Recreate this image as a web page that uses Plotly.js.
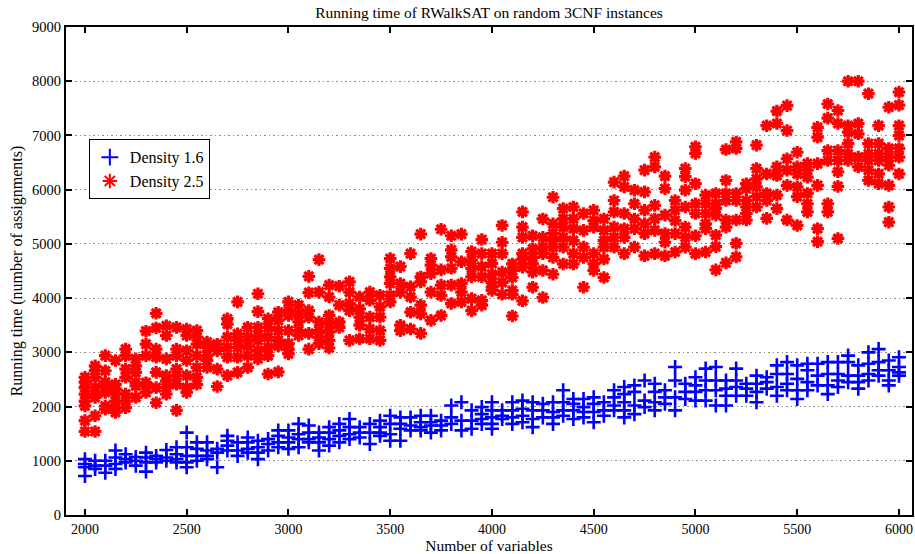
<!DOCTYPE html>
<html>
<head>
<meta charset="utf-8">
<script src="https://cdn.plot.ly/plotly-3.0.1.min.js"></script>
<style>
html,body{margin:0;padding:0;background:#fff;}
#chart{width:915px;height:554px;}
</style>
</head>
<body>
<div id="chart"></div>
<script>
// Number of variables (one column every 50)
var nVars = [];
for (var v = 2000; v <= 6000; v += 50) nVars.push(v);

// Density 1.6 running times, one list per column of nVars
var density16 = [
 [1030,940,880,720],[1000,910,850],[1000,910,780],[1190,1060,940,850],[1120,1030,970],
 [1070,1000,910],[1150,1060,970,800],[1090,1030,970],[1200,1060,1000],[1250,1120,1030,970],
 [1520,1250,1090,970,880],[1340,1220,1090,1000],[1340,1190,1090,1030],[1220,1150,880],[1460,1370,1280,1190],
 [1340,1190,1090],[1430,1340,1220,1150],[1370,1250,1150,1030],[1400,1310,1190],[1560,1460,1340,1250],
 [1560,1430,1340,1220],[1680,1490,1400,1250],[1650,1520,1400,1340],[1520,1430,1340,1190],[1620,1520,1400,1280],
 [1680,1560,1460,1340],[1770,1620,1490,1400],[1620,1520,1430],[1680,1520,1310],[1740,1620,1520,1460],
 [1830,1680,1490,1370],[1800,1680,1590,1370],[1800,1650,1560],[1830,1710,1620,1560],[1830,1710,1650,1520],
 [1740,1650,1560],[2020,1800,1680],[2080,1740,1560],[1930,1740,1590],[1990,1860,1770,1680],
 [2080,1930,1800,1680,1590],[1930,1830,1770],[2080,1930,1800,1680],[2110,1960,1830,1710],[2080,1930,1770,1620],
 [2050,1930,1800],[2080,1900,1800,1680],[2300,2080,1930,1830],[2140,2050,1930,1770],[2140,1990,1900,1800],
 [2170,2050,1900,1710],[2080,1930,1830],[2300,2170,2020,1930],[2360,2230,2080,1930,1800],[2390,2270,2020,1860],
 [2480,2110,1990],[2420,2270,2080,1930],[2300,2170,2050],[2730,2480,2170,1930],[2420,2270,2140],
 [2540,2390,2270,2110],[2700,2480,2300,2110],[2730,2480,2300,2020],[2480,2330,2200,2020],[2700,2480,2360,2200],
 [2420,2330,2200],[2570,2420,2270,2080],[2540,2450,2330],[2760,2600,2360,2200],[2820,2600,2420,2300],
 [2760,2510,2300,2140],[2790,2670,2450,2300],[2790,2570,2390],[2820,2600,2390,2230],[2820,2600,2480,2360],
 [2940,2820,2570,2450],[2760,2570,2450,2330],[3000,2790,2600,2480],[3060,2820,2670,2570],[2850,2670,2480,2390],
 [2910,2730,2630,2570]
];

// Density 2.5 running times, one list per column of nVars
var density25 = [
 [2540,2350,2230,2100,2010,1740,1540,2450],[2750,2660,2540,2350,2230,2170,1830,1540],[2940,2660,2380,2260,2010,1950,2450],
 [2850,2410,2320,2230,2100,1980,1890],[3060,2940,2690,2540,2230,2100,1980],[2880,2750,2630,2440,2380,2170],
 [3390,3150,2940,2440,2380,2260],[3720,3450,3060,2910,2630,2350,2070],[3490,3310,2880,2570,2470,2350,2230],
 [3460,3060,2940,2690,2570,2410,1930],[3430,3310,3030,2850,2570,2350,2260],[3400,3280,3150,2940,2720,2540,2410],
 [3190,3090,2940,2850,2720],[3150,3030,2690,2370],[3620,3520,3280,3090,2910,2570],
 [3930,3340,3220,3090,2910,2630],[3460,3280,3120,2940,2720],[4080,3750,3460,3310,3220,3030,2880],
 [3620,3460,3280,3090,2940,2600],[3740,3590,3400,3220,3120,2640],[3930,3770,3680,3400,3160,3060,2970],
 [3870,3710,3560,3400,3310],[4400,4100,3770,3650,3350,3060],[4710,4110,3560,3400,3280,3160],
 [4240,4020,3680,3530,3370,3220,3080],[4220,3870,3560,3460],[4300,4110,3900,3770,3220],
 [4020,3800,3650,3500,3250],[4110,3960,3650,3430,3250],[4050,3840,3650,3400,3220],
 [4730,4550,4390,4270,4050,3930],[4580,4270,4110,3500,3400],[4820,4210,4020,3740,3430],
 [5180,4390,4300,3870,3710,3350],[4730,4610,4450,4110,3590],[5270,4520,4240,4050,3680],
 [5150,4890,4760,4550,4240,3900],[5180,4670,4270,4110,3930],[4860,4700,4550,4390,3990,3770],
 [5080,4820,4580,4390,3960,3870],[4820,4640,4440,4290,4200,4140],[5340,5030,4820,4480,4290,4070],
 [4630,4510,4380,4140,4070,3670],[5590,5310,5120,4820,4720,4570,3950],[5150,4910,4750,4630,4480,4200],
 [5460,5120,4940,4820,4510,4010],[5860,5370,5190,5060,4940,4750,4440],[5650,5460,5310,5120,4940,4630],
 [5680,5460,5280,5060,4820,4630],[5560,5250,4940,4750,4200],[5620,5430,5310,4820,4630,4510],
 [5460,5250,5060,4940,4720,4380],[6140,5800,5590,5310,5120,4940],[6250,6050,5560,5280,5120,4820],
 [5990,5740,5460,5280,4940],[6360,5960,5620,5370,5190,4780],[6600,6420,5710,5460,5250,4820],
 [6250,6020,5530,5190,5030,4780],[5800,5620,5430,5190,4850],[6390,6240,5990,5680,5310,5120,4940],
 [6790,6670,6110,5740,5560,5150,4820],[5900,5740,5560,5370,5280,4850],[5930,5740,5650,5530,5160,4950,4520],
 [6740,6170,5930,5800,5440,5310,4650],[6880,6760,5930,5800,5440,5010,4760],[6110,6020,5800,5680,5560,5440],
 [6820,6390,6200,6050,5870,5680],[7180,6290,5930,5800,5470],[7450,7220,6420,6260,5900,5650],
 [7550,7090,6570,6360,6080,5440],[6690,6420,6290,6050,5870,5340],[6480,6360,6230,5930,5740,5590],
 [7150,6970,6480,6080,5280,5040],[7580,7320,6720,6540,5740,5590],[7460,7220,6720,6540,6330,6060,5100],
 [8000,7180,7060,6850,6660,6540],[8000,7220,7030,6600,6420],[7770,6850,6660,6540,6360,6170],
 [7180,6850,6660,6540,6290,6110],[7520,6760,6600,6450,6080,5680,5400],[7800,7560,7180,7000,6760,6600,6290]
];

var seriesNames = ['Density 1.6', 'Density 2.5'];
var xTicks = [2000,2500,3000,3500,4000,4500,5000,5500,6000];
var yTicks = [0,1000,2000,3000,4000,5000,6000,7000,8000,9000];

function flatten(cols) {
  var xs = [], ys = [];
  cols.forEach(function (list, i) {
    list.forEach(function (y) { xs.push(nVars[i]); ys.push(y); });
  });
  return {x: xs, y: ys};
}
var f16 = flatten(density16), f25 = flatten(density25);

var serif = 'Liberation Serif, Times New Roman, serif';

var traces = [
  {x: f16.x, y: f16.y, name: seriesNames[0], type: 'scatter', mode: 'markers',
   marker: {symbol: 'cross-thin-open', size: 10, color: '#0000ff', line: {color: '#0000ff', width: 2.6}}},
  {x: f25.x, y: f25.y, name: seriesNames[1], type: 'scatter', mode: 'markers',
   marker: {symbol: 'asterisk-open', size: 10.5, color: '#ff0000', line: {color: '#ff0000', width: 3.2}}}
];

var layout = {
  width: 915, height: 554,
  margin: {l: 66, r: 3, t: 27, b: 39},
  paper_bgcolor: '#ffffff', plot_bgcolor: '#ffffff',
  font: {family: serif, size: 14, color: '#000'},
  title: {text: 'Running time of RWalkSAT on random 3CNF instances', font: {family: serif, size: 15.5, color: '#000'},
          x: 0.5345, xanchor: 'center', y: 0.977, yanchor: 'middle'},
  showlegend: true,
  legend: {x: 0.027, y: 0.77, xanchor: 'left', yanchor: 'top', bgcolor: '#fff',
           bordercolor: '#000', borderwidth: 1, font: {family: serif, size: 16, color: '#000'},
           tracegroupgap: 0, itemsizing: 'constant'},
  xaxis: {range: [1907, 6064], tickvals: xTicks, ticktext: xTicks.map(String), ticks: 'inside', ticklen: 6,
          tickwidth: 1.5, tickcolor: '#000', showline: true, linecolor: '#000', linewidth: 2, mirror: 'ticks',
          showgrid: false, zeroline: false, tickfont: {family: serif, size: 14, color: '#000'},
          title: {text: 'Number of variables', font: {family: serif, size: 15.5, color: '#000'}, standoff: 1}},
  yaxis: {range: [0, 9000], tickvals: yTicks, ticktext: yTicks.map(String), ticks: 'inside', ticklen: 6,
          tickwidth: 1.5, tickcolor: '#000', showline: true, linecolor: '#000', linewidth: 2, mirror: 'ticks',
          showgrid: true, gridcolor: '#8c8c8c', griddash: '1.5px,3px', gridwidth: 1, zeroline: false,
          tickfont: {family: serif, size: 14.5, color: '#000'},
          title: {text: 'Running time (number of assignments)', font: {family: serif, size: 16, color: '#000'}, standoff: 5}}
};

Plotly.newPlot('chart', traces, layout, {displayModeBar: false, responsive: false});
</script>
</body>
</html>
